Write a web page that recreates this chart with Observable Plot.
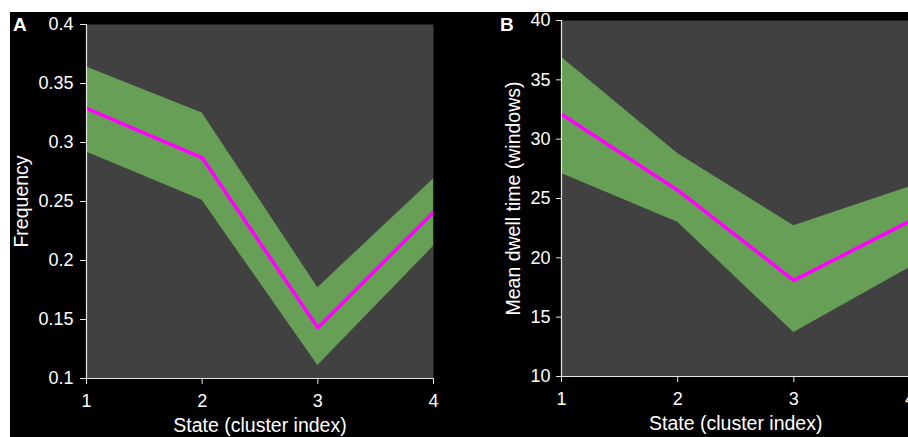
<!DOCTYPE html>
<html>
<head>
<meta charset="utf-8">
<script src="https://cdn.jsdelivr.net/npm/d3@7"></script>
<script src="https://cdn.jsdelivr.net/npm/@observablehq/plot@0.6"></script>
<style>
  html, body { margin: 0; padding: 0; background: #ffffff; width: 908px; height: 437px; overflow: hidden; }
  #bg { position: absolute; left: 10px; top: 12px; width: 898px; height: 425px; background: #000; overflow: hidden; }
  .panel { position: absolute; width: 460px; height: 425px; }
  .panel svg { max-width: none !important; }
  .letter { position: absolute; color: #fff; font-family: "Liberation Sans", Arial, sans-serif; font-weight: bold; font-size: 19px; line-height: 19px; }
</style>
</head>
<body>
<div id="bg"></div>
<script>
// ---- data ----
const states = [1, 2, 3, 4];
const freqMean  = [0.329, 0.287, 0.143, 0.241];
const freqUpper = [0.364, 0.325, 0.177, 0.269];
const freqLower = [0.292, 0.251, 0.111, 0.212];
const dwellMean  = [32.1, 25.7, 18.1, 23.1];
const dwellUpper = [36.9, 28.8, 22.7, 26.0];
const dwellLower = [27.1, 23.0, 13.7, 19.2];
const freqTicks = [0.1, 0.15, 0.2, 0.25, 0.3, 0.35, 0.4];
const dwellTicks = [10, 15, 20, 25, 30, 35, 40];
const xLabel = "State (cluster index)";
const freqLabel = "Frequency";
const dwellLabel = "Mean dwell time (windows)";

const rows = (mean, lo, hi) => states.map((s, i) => ({state: s, mean: mean[i], lower: lo[i], upper: hi[i]}));

const FONT = "'Liberation Sans', Arial, sans-serif";
const AXIS = "#e6e6e6";
const fmt = d => String(+(+d).toFixed(2));

function panel({data, yTicks, yLabel, width, height, mL, mR, mT, mB, yLabelOffset, yTickSize, yTickPad}) {
  return Plot.plot({
    width, height,
    marginLeft: mL, marginRight: mR, marginTop: mT, marginBottom: mB,
    style: {background: "transparent", color: "#ffffff", fontFamily: FONT, fontSize: "18px", overflow: "visible", maxWidth: "none"},
    x: {domain: [states[0], states[states.length - 1]]},
    y: {domain: [yTicks[0], yTicks[yTicks.length - 1]]},
    marks: [
      Plot.frame({fill: "#414141", stroke: null}),
      Plot.areaY(data, {x: "state", y1: "lower", y2: "upper", fill: "#689f57", clip: true}),
      Plot.lineY(data, {x: "state", y: "mean", stroke: "#ff00ff", strokeWidth: 3.5, clip: true}),
      Plot.ruleX([states[0]], {stroke: AXIS, strokeWidth: 1.2}),
      Plot.ruleY([yTicks[0]], {stroke: AXIS, strokeWidth: 1.2}),
      Plot.axisX({ticks: states, tickSize: 6, tickPadding: 10, stroke: AXIS, label: null, fill: "#fff", fontSize: 18, tickFormat: fmt}),
      Plot.axisX({ticks: [], label: xLabel, labelArrow: "none", labelAnchor: "center", labelOffset: 53, fill: "#fff", fontSize: 19.5}),
      Plot.axisY({ticks: yTicks, tickSize: yTickSize, tickPadding: yTickPad, stroke: AXIS, label: null, fill: "#fff", fontSize: 18, tickFormat: fmt}),
      Plot.axisY({ticks: [], label: yLabel, labelArrow: "none", labelAnchor: "center", labelOffset: yLabelOffset, fill: "#fff", fontSize: 19.5})
    ]
  });
}

const a = panel({data: rows(freqMean, freqLower, freqUpper), yTicks: freqTicks, yLabel: freqLabel,
  width: 460, height: 425, mL: 76, mR: 37, mT: 12, mB: 59, yLabelOffset: 72, yTickSize: 6, yTickPad: 7});
const b = panel({data: rows(dwellMean, dwellLower, dwellUpper), yTicks: dwellTicks, yLabel: dwellLabel,
  width: 460, height: 425, mL: 81, mR: 30.5, mT: 8, mB: 61, yLabelOffset: 55, yTickSize: 5, yTickPad: 6});

const bg = document.getElementById("bg");
const wa = document.createElement("div"); wa.className = "panel"; wa.style.left = "0px"; wa.style.top = "0px"; wa.appendChild(a);
const wb = document.createElement("div"); wb.className = "panel"; wb.style.left = "470px"; wb.style.top = "0px"; wb.appendChild(b);
bg.appendChild(wa); bg.appendChild(wb);

const la = document.createElement("div"); la.className = "letter"; la.textContent = "A"; la.style.left = "3px"; la.style.top = "3px";
const lb = document.createElement("div"); lb.className = "letter"; lb.textContent = "B"; lb.style.left = "490px"; lb.style.top = "3px";
bg.appendChild(la); bg.appendChild(lb);
</script>
</body>
</html>
